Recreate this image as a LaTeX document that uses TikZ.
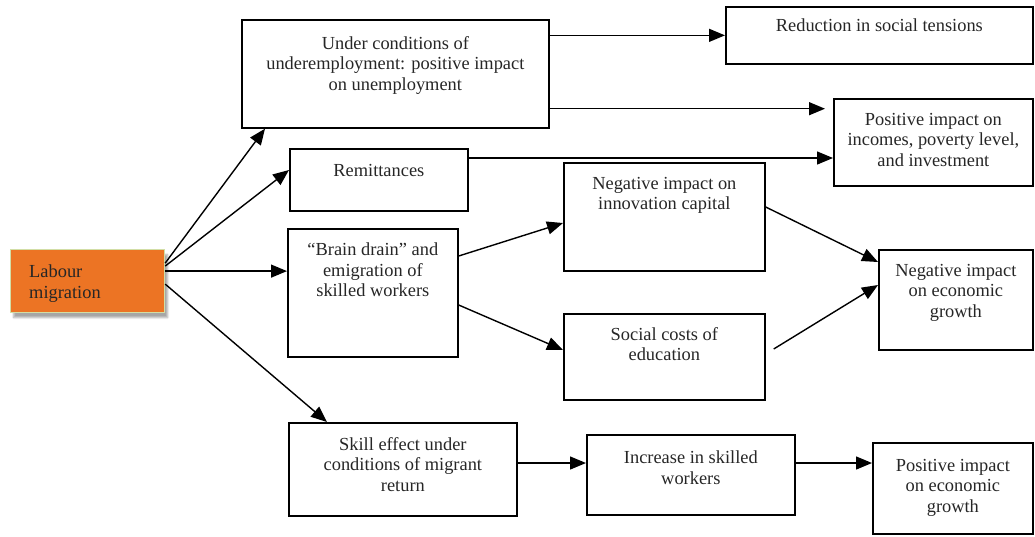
\documentclass[tikz,border=0pt]{standalone}
\usepackage{fontspec}
\setmainfont{Liberation Serif}
\usetikzlibrary{positioning,arrows.meta,shadows.blur}
\definecolor{labfill}{HTML}{EC7424}
\definecolor{labline}{HTML}{D2DEA6}
\begin{document}
\begin{tikzpicture}[x=1pt,y=-1pt]
	\tikzstyle{every node}+=[inner sep=0pt]
	\tikzstyle{box}=[draw=black, line width=1.7pt, anchor=north west]
	\tikzstyle{txt}=[align=center, text=black!85, font=\fontsize{18.4}{20.5}\selectfont]
	\tikzstyle{arr}=[line width=1.4pt, -{Triangle[length=16pt,width=13pt]}]
	\useasboundingbox (0,0) rectangle (1035,536);
	\node [box, draw=labline, fill=labfill, line width=1.2pt, minimum width=154, minimum height=63,
		blur shadow={shadow xshift=3pt, shadow yshift=-5pt, shadow opacity=35, shadow blur steps=6}] (lab) at (10,249) {};
	\node [txt, align=left, anchor=north west] at ([xshift=19pt,yshift=-16pt]lab.north west) {Labour\\migration};
	\node [box, minimum width=307, minimum height=108] (under) at (241,19) {};
	\node [txt, below=17pt of under.north] {Under conditions of\\underemployment: positive impact\\on unemployment};
	\node [box, minimum width=307, minimum height=57] (reduc) at (725,6) {};
	\node [txt, below=13pt of reduc.north] {Reduction in social tensions};
	\node [box, minimum width=199, minimum height=87] (posinc) at (833,98) {};
	\node [txt, below=15pt of posinc.north] {Positive impact on\\incomes, poverty level,\\and investment};
	\node [box, minimum width=178, minimum height=62] (remit) at (289,148) {};
	\node [txt, below=16pt of remit.north] {Remittances};
	\node [box, minimum width=170, minimum height=128] (brain) at (287,228) {};
	\node [txt, below=15pt of brain.north] {``Brain drain'' and\\emigration of\\skilled workers};
	\node [box, minimum width=201, minimum height=108] (innov) at (563,162) {};
	\node [txt, below=15pt of innov.north] {Negative impact on\\innovation capital};
	\node [box, minimum width=201, minimum height=86] (social) at (563,313) {};
	\node [txt, below=14pt of social.north] {Social costs of\\education};
	\node [box, minimum width=154, minimum height=100] (negeco) at (878,249) {};
	\node [txt, below=15pt of negeco.north] {Negative impact\\on economic\\growth};
	\node [box, minimum width=228, minimum height=93] (skill) at (288,422) {};
	\node [txt, below=15pt of skill.north] {Skill effect under\\conditions of migrant\\return};
	\node [box, minimum width=208, minimum height=80] (incr) at (586,434) {};
	\node [txt, below=17pt of incr.north] {Increase in skilled\\workers};
	\node [box, minimum width=160, minimum height=91] (poseco) at (872,442) {};
	\node [txt, below=17pt of poseco.north] {Positive impact\\on economic\\growth};
	% from labour migration
	\draw [arr] ([yshift=18pt]lab.east) -- ([xshift=24pt]under.south west);
	\draw [arr] ([yshift=15pt]lab.east) -- ([yshift=-22pt]remit.north west);
	\draw [arr] ([yshift=10pt]lab.east) -- ([yshift=10pt]lab.east -| brain.west);
	\draw [arr] ([yshift=-3pt]lab.east) -- ([xshift=39pt]skill.north west);
	% upper chain
	\draw [arr] (under.east |- reduc.west) -- (reduc.west);
	\coordinate (u2) at ([yshift=20pt]under.south east);
	\draw [arr] (u2) -- ([xshift=-8pt]u2 -| posinc.west);
	\coordinate (r1) at ([yshift=-10pt]remit.north east);
	\draw [arr] (r1) -- (r1 -| posinc.west);
	% brain drain
	\draw [arr] ([yshift=-28pt]brain.north east) -- ([yshift=-61pt]innov.north west);
	\draw [arr] ([yshift=-77pt]brain.north east) -- ([yshift=-37pt]social.north west);
	\draw [arr] ([yshift=-45pt]innov.north east) -- ([yshift=-13pt]negeco.north west);
	\draw [arr] ([xshift=8pt,yshift=-36pt]social.north east) -- ([yshift=-36pt]negeco.north west);
	% lower chain
	\coordinate (i1) at ([yshift=-29pt]incr.north west);
	\draw [arr] (skill.east |- i1) -- (i1);
	\coordinate (i2) at ([yshift=-29pt]incr.north east);
	\draw [arr] (i2) -- (i2 -| poseco.west);
\end{tikzpicture}
\end{document}
